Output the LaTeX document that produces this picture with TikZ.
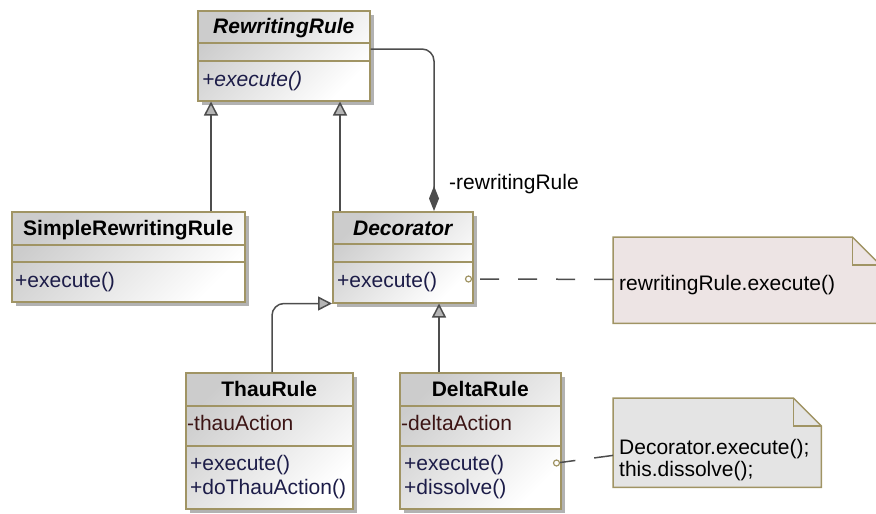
\documentclass[tikz,border=0pt]{standalone}
\usepackage{fontspec}
\setmainfont{Liberation Sans}
\usetikzlibrary{arrows.meta,calc,shadows}

\definecolor{umlborder}{RGB}{160,148,100}
\definecolor{umlgray}{RGB}{204,204,204}
\definecolor{umlshadow}{RGB}{178,178,178}
\definecolor{umlline}{RGB}{77,77,77}
\definecolor{umltri}{RGB}{180,180,180}
\definecolor{umlmethod}{RGB}{28,28,72}
\definecolor{umlattr}{RGB}{60,20,20}
\definecolor{notepink}{RGB}{237,228,228}
\definecolor{notegray}{RGB}{228,228,228}

\newcommand{\umlsize}{\fontsize{21}{24}\selectfont}

\tikzset{
  umlclass/.style={draw=umlborder, line width=1.5pt, inner sep=0pt, anchor=north west,
    top color=umlgray, bottom color=white, shading angle=45,
    drop shadow={shadow xshift=4pt, shadow yshift=-4pt, fill=umlshadow, opacity=1}},
  umlsep/.style={draw=umlborder, line width=1.5pt},
  classname/.style={anchor=base, inner sep=0pt, font=\umlsize\bfseries},
  member/.style={anchor=base west, inner sep=0pt, text=umlmethod, font=\umlsize},
  attrib/.style={anchor=base west, inner sep=0pt, text=umlattr, font=\umlsize},
  notetext/.style={anchor=base west, inner sep=0pt, font=\umlsize},
  notebox/.style={anchor=north west, inner sep=0pt},
  port/.style={circle, draw=umlborder, line width=1.2pt, minimum size=6pt, inner sep=0pt},
  conn/.style={draw=umlline, line width=1.5pt},
  inherit/.style={conn, -{Triangle[length=14pt, width=14pt, fill=umltri]}},
  compose/.style={conn, {Diamond[length=25pt, width=10pt, fill=umlline]}-, rounded corners=12pt},
  noteline/.style={conn, dash pattern=on 19pt off 19pt}
}

\begin{document}
\begin{tikzpicture}[x=1pt, y=-1pt]
  \useasboundingbox (0,0) rectangle (876,514);
  \clip (0,0) rectangle (876,514);

  % Class boxes
  \node[umlclass, minimum width=172pt, minimum height=90pt] (rr) at (197,10) {};
  \node[umlclass, minimum width=233pt, minimum height=90pt] (srr) at (11,211) {};
  \node[umlclass, minimum width=140pt, minimum height=91pt] (dec) at (332,211) {};
  \node[umlclass, minimum width=167pt, minimum height=136pt] (thau) at (185,372) {};
  \node[umlclass, minimum width=161pt, minimum height=136pt] (delta) at (399,372) {};

  % Compartment lines
  \foreach \cls/\a/\b in {rr/33/51, srr/34/51, dec/33/51, thau/34/74, delta/34/74} {
    \draw[umlsep] ($(\cls.north west)+(0,\a)$) -- ($(\cls.north east)+(0,\a)$);
    \draw[umlsep] ($(\cls.north west)+(0,\b)$) -- ($(\cls.north east)+(0,\b)$);
  }

  % Class names
  \node[classname, font=\umlsize\bfseries\itshape] (rr-name) at ($(rr.north)+(0,24)$) {RewritingRule};
  \node[classname] (srr-name) at ($(srr.north)+(0,24)$) {SimpleRewritingRule};
  \node[classname, font=\umlsize\bfseries\itshape] (dec-name) at ($(dec.north)+(0,24)$) {Decorator};
  \node[classname] (thau-name) at ($(thau.north)+(0,24)$) {ThauRule};
  \node[classname] (delta-name) at ($(delta.north)+(0,24)$) {DeltaRule};

  % Members
  \node[member, font=\umlsize\itshape] (rr-m1) at ($(rr.north west)+(5,76)$) {+execute()};
  \node[member] (srr-m1) at ($(srr.north west)+(4,76)$) {+execute()};
  \node[member] (dec-m1) at ($(dec.north west)+(5,76)$) {+execute()};
  \node[attrib] (thau-a1) at ($(thau.north west)+(2,58)$) {-thauAction};
  \node[member] (thau-m1) at ($(thau.north west)+(5,98)$) {+execute()};
  \node[member] (thau-m2) at ($(thau.north west)+(5,122)$) {+doThauAction()};
  \node[attrib] (delta-a1) at ($(delta.north west)+(2,58)$) {-deltaAction};
  \node[member] (delta-m1) at ($(delta.north west)+(5,98)$) {+execute()};
  \node[member] (delta-m2) at ($(delta.north west)+(5,122)$) {+dissolve()};

  % Notes
  \node[notebox, minimum width=267pt, minimum height=86pt] (n1) at (613,237) {};
  \node[notebox, minimum width=208pt, minimum height=89pt] (n2) at (613,398) {};
  \foreach \n/\f in {n1/notepink, n2/notegray} {
    \fill[umlshadow, xshift=4pt, yshift=-4pt] (\n.north west) -- ($(\n.north east)+(-28,0)$)
      -- ($(\n.north east)+(0,28)$) -- (\n.south east) -- (\n.south west) -- cycle;
    \filldraw[fill=\f, draw=umlborder, line width=1.5pt] (\n.north west) -- ($(\n.north east)+(-28,0)$)
      -- ($(\n.north east)+(0,28)$) -- (\n.south east) -- (\n.south west) -- cycle;
    \draw[umlsep] ($(\n.north east)+(-28,0)$) -- ($(\n.north east)+(-28,28)$) -- ($(\n.north east)+(0,28)$);
  }
  \node[notetext] (n1-text) at (619,290) {rewritingRule.execute()};
  \node[notetext] (n2-text1) at (619,454) {Decorator.execute();};
  \node[notetext] (n2-text2) at (619,476) {this.dissolve();};

  % Inheritance
  \coordinate (srr-top) at ($(srr.north west)+(200,0)$);
  \coordinate (dec-top) at ($(dec.north west)+(8,0)$);
  \coordinate (thau-top) at ($(thau.north west)+(87,0)$);
  \coordinate (delta-top) at ($(delta.north west)+(40,0)$);
  \draw[inherit] (srr-top) -- (srr-top |- rr.south);
  \draw[inherit] (dec-top) -- (dec-top |- rr.south);
  \draw[inherit, rounded corners=12pt] (thau-top) |- (dec.south west);
  \draw[inherit] (delta-top) -- (delta-top |- dec.south);

  % Composition
  \coordinate (dec-owner) at ($(dec.north west)+(102,0)$);
  \coordinate (rr-side) at ($(rr.north east)+(0,39)$);
  \draw[compose] (dec-owner) |- (rr-side);
  \node[notetext] (role) at (449,189) {-rewritingRule};

  % Note links
  \node[port] (dec-port) at ($(dec.north east)+(-5,68)$) {};
  \node[port] (delta-port) at ($(delta.north east)+(-5,91)$) {};
  \draw[noteline] ($(n1.south west)+(0,-44)$) -- (dec-port);
  \draw[noteline] ($(n2.south west)+(0,-32)$) -- (delta-port);

\end{tikzpicture}
\end{document}
